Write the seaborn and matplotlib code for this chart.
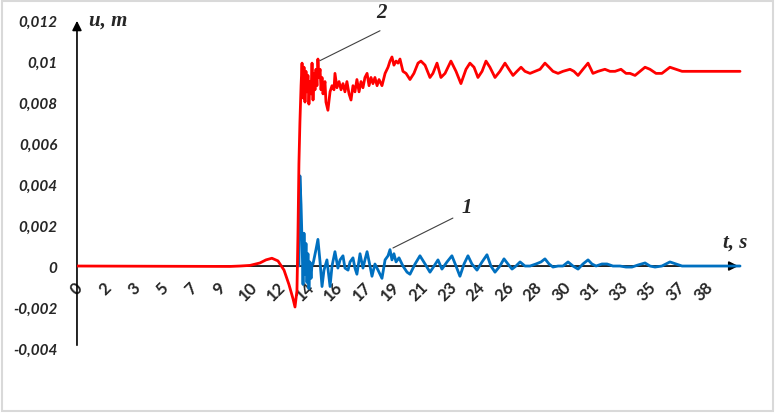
import pandas as pd
import matplotlib
matplotlib.use("Agg")
import matplotlib.pyplot as plt
import matplotlib.patches as patches
import seaborn as sns

# series 2 (red) - time, s and displacement, m
t_red = [0, 9.34, 9.95, 10.56, 11.17, 11.54, 11.90, 12.27, 12.64, 12.94, 13.19, 13.31,
         13.43, 13.49, 13.55, 13.61, 13.68, 13.74, 13.80, 13.86, 13.92, 13.98, 14.04,
         14.10, 14.16, 14.22, 14.29, 14.35, 14.41, 14.47, 14.53, 14.59, 14.65, 14.71,
         14.77, 14.84, 14.90, 14.96, 15.02, 15.14, 15.20, 15.32, 15.45, 15.57, 15.69,
         15.75, 15.87, 16.00, 16.12, 16.24, 16.36, 16.48, 16.61, 16.73, 16.85, 16.97,
         17.09, 17.22, 17.34, 17.46, 17.58, 17.71, 17.83, 17.95, 18.07, 18.19, 18.32,
         18.44, 18.62, 18.81, 18.99, 19.11, 19.23, 19.35, 19.48, 19.60, 19.72, 19.90,
         20.09, 20.33, 20.57, 20.82, 21.00, 21.25, 21.55, 21.73, 21.98, 22.22, 22.47,
         22.83, 23.14, 23.44, 23.75, 23.99, 24.24, 24.48, 24.73, 24.97, 25.21, 25.52,
         25.82, 26.13, 26.37, 26.62, 26.86, 27.11, 27.35, 27.66, 27.96, 28.27, 28.57,
         28.82, 29.06, 29.37, 29.67, 30.10, 30.34, 30.59, 30.89, 31.20, 31.50, 31.81,
         32.23, 32.54, 32.85, 33.21, 33.52, 33.76, 34.07, 34.37, 34.68, 34.98, 35.35,
         35.71, 36.20, 36.57, 36.94, 37.42, 40.48]
u_red = [0, -0.00002, 0.0, 0.00003, 0.00015, 0.0003, 0.00038, 0.00025, -0.0002, -0.0009,
         -0.0016, -0.0020, -0.0012, 0.0015, 0.0050, 0.0070, 0.0088, 0.0099, 0.0082, 0.0097,
         0.0080, 0.0095, 0.0085, 0.0093, 0.0079, 0.0090, 0.0084, 0.0099, 0.0081, 0.0094,
         0.0086, 0.0096, 0.0088, 0.0101, 0.0092, 0.0096, 0.0086, 0.0092, 0.0084, 0.0090,
         0.0080, 0.0076, 0.0085, 0.0088, 0.0086, 0.0094, 0.0087, 0.0090, 0.0086, 0.0089,
         0.0085, 0.0090, 0.0084, 0.0081, 0.0088, 0.0085, 0.0091, 0.0085, 0.0090, 0.0087,
         0.0092, 0.0094, 0.0088, 0.0092, 0.0089, 0.0092, 0.0088, 0.0091, 0.0088, 0.0094,
         0.0097, 0.0100, 0.0102, 0.0098, 0.0100, 0.0099, 0.0101, 0.0095, 0.0094, 0.0091,
         0.0094, 0.0099, 0.0100, 0.0098, 0.0092, 0.0094, 0.0099, 0.0092, 0.0094, 0.0100,
         0.0095, 0.0089, 0.0096, 0.0099, 0.0097, 0.0092, 0.0095, 0.0100, 0.0097, 0.0092,
         0.0095, 0.0099, 0.0096, 0.0093, 0.0095, 0.0097, 0.0095, 0.0094, 0.0095, 0.0096,
         0.0099, 0.0097, 0.0095, 0.0094, 0.0095, 0.0096, 0.0095, 0.0093, 0.0096, 0.0099,
         0.0094, 0.0095, 0.0096, 0.0095, 0.0095, 0.0096, 0.0094, 0.0094, 0.0093, 0.0095,
         0.0097, 0.0096, 0.0094, 0.0094, 0.0097, 0.0096, 0.0095, 0.0095, 0.0095]

# series 1 (blue), starts at the jump; before it lies under the red curve
t_blue = [13.55, 13.61, 13.68, 13.74, 13.80, 13.86, 13.92, 13.98, 14.04, 14.10,
          14.16, 14.22, 14.29, 14.35, 14.41, 14.59, 14.71, 14.84, 14.96, 15.08, 15.26,
          15.45, 15.57, 15.75, 15.93, 16.06, 16.24, 16.36, 16.55, 16.67, 16.85, 16.97,
          17.09, 17.28, 17.46, 17.58, 17.71, 17.89, 18.01, 18.19, 18.38, 18.62, 18.81,
          18.99, 19.11, 19.23, 19.35, 19.48, 19.66, 19.90, 20.15, 20.33, 20.64, 20.94,
          21.25, 21.55, 21.80, 22.04, 22.28, 22.59, 22.89, 23.14, 23.38, 23.63, 23.87,
          24.11, 24.42, 24.73, 25.03, 25.27, 25.52, 25.82, 26.07, 26.31, 26.56, 26.80,
          27.05, 27.35, 27.66, 28.02, 28.33, 28.57, 28.82, 29.06, 29.37, 29.67, 29.98,
          30.28, 30.59, 30.89, 31.20, 31.44, 31.69, 32.05, 32.36, 32.72, 33.15, 33.52,
          33.88, 34.25, 34.68, 34.98, 35.29, 35.71, 36.20, 36.57, 36.94, 37.42, 38.34,
          40.48]
u_blue = [0.0, 0.0044, 0.0030, 0.0012, -0.0009, 0.0016, -0.0004, 0.0011,
          -0.0008, 0.0006, -0.0011, 0.0002, -0.0006, 0.0001, 0.0001, 0.0008, 0.0013,
          0.0002, -0.0010, -0.0002, 0.0003, -0.0010, 0.0, 0.0007, -0.0001, 0.0003, 0.0005,
          -0.0001, -0.0002, 0.0002, 0.0004, -0.0001, -0.0004, 0.0006, -0.0001, 0.0003,
          0.0007, 0.0, -0.0005, 0.0001, -0.0002, -0.0006, 0.0003, 0.0005, 0.0008, 0.0003,
          0.0006, 0.0002, 0.0004, 0.0, -0.0003, -0.0004, 0.0001, 0.0005, 0.0001, -0.0003,
          0.0, 0.0003, -0.00015, 0.0002, 0.0005, 0.0, -0.0005, 0.0001, 0.0005, 0.0001,
          -0.0002, 0.0002, 0.00055, 0.0, -0.0003, 0.0, 0.00035, 0.0001, -0.00015, 0.0,
          0.0002, 0.0, 0.0, 0.0001, 0.0002, 0.00035, 0.0001, -0.00005, 0.0, 0.0, 0.0002,
          0.0, -0.00015, 0.0001, 0.0003, 0.0001, 0.0, 0.0001, 0.0001, 0.0, 0.0, -0.00005,
          -0.00005, 0.00005, 0.00015, 0.0, -0.00005, 0.0, 0.0002, 0.0001, 0.0, 0.0, 0.0,
          0.0]

x_labels = ['0', '2', '3', '5', '7', '9', '10', '12', '14', '16', '17', '19', '21', '23',
            '24', '26', '28', '30', '31', '33', '35', '37', '38']
x_step = 1.74
y_ticks = [-0.004, -0.002, 0, 0.002, 0.004, 0.006, 0.008, 0.01, 0.012]
y_labels = ['-0,004', '-0,002', '0', '0,002', '0,004', '0,006', '0,008', '0,01', '0,012']

sns.set_style("white")
plt.rcParams['font.family'] = ['Lato', 'DejaVu Sans']

df_red = pd.DataFrame({'t': t_red, 'u': u_red})
df_blue = pd.DataFrame({'t': t_blue, 'u': u_blue})

fig = plt.figure(figsize=(7.76, 4.14), dpi=100)
ax = fig.add_axes([0.0992, 0.157, 0.8591, 0.797])

sns.lineplot(data=df_blue, x='t', y='u', ax=ax, color='#0070C0', lw=2.0, zorder=3)
sns.lineplot(data=df_red, x='t', y='u', ax=ax, color='#FF0000', lw=2.0, zorder=4)

ax.set_xlim(0, 40.7)
ax.set_ylim(-0.004, 0.0121)
for s in ax.spines.values():
    s.set_visible(False)
ax.spines['bottom'].set_position(('data', 0))
ax.spines['left'].set_position(('data', 0))

# axes arrows
ax.annotate('', xy=(40.55, 0), xytext=(0, 0),
            arrowprops=dict(arrowstyle='-|>', color='black', lw=1.2, mutation_scale=14),
            zorder=1)
ax.annotate('', xy=(0, 0.0121), xytext=(0, -0.004),
            arrowprops=dict(arrowstyle='-|>', color='black', lw=1.2, mutation_scale=14),
            zorder=1)

ax.set_xticks([i * x_step for i in range(len(x_labels))])
ax.set_xticklabels(x_labels, rotation=45, ha='center', va='top', fontsize=12,
                   fontweight='bold')
ax.set_yticks(y_ticks)
ax.set_yticklabels(y_labels, fontsize=11, fontweight='bold', fontstyle='italic')
ax.tick_params(axis='x', length=0, pad=9)
ax.tick_params(axis='y', length=0, pad=14)
ax.set_xlabel('')
ax.set_ylabel('')

serif = dict(family='Liberation Serif', fontweight='bold', fontstyle='italic', fontsize=15)
ax.text(0.75, 0.0120, 'u, m', ha='left', va='center', clip_on=False, **serif)
ax.text(40.2, 0.00117, 't, s', ha='center', va='center', clip_on=False, **serif)
ax.text(18.6, 0.0124, '2', ha='center', va='center', clip_on=False, **serif)
ax.text(23.8, 0.0029, '1', ha='center', va='center', clip_on=False, **serif)
ax.plot([18.5, 14.83], [0.01148, 0.01002], color='#404040', lw=0.8, zorder=5)
ax.plot([22.95, 19.29], [0.00234, 0.00088], color='#404040', lw=0.8, zorder=5)

# chart area border
fig.patches.append(patches.Rectangle((0.003, 0.006), 0.993, 0.988, transform=fig.transFigure,
                                     fill=False, edgecolor='#d9d9d9', lw=1.5))

fig.savefig('out.png', dpi=100)
